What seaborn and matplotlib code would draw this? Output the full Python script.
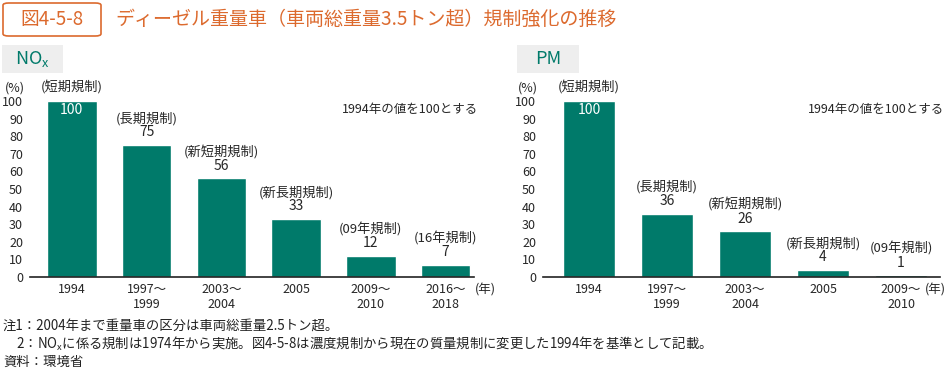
import matplotlib
matplotlib.use('Agg')
import pandas as pd
import seaborn as sns
import matplotlib.pyplot as plt
from matplotlib.patches import FancyBboxPatch, Rectangle

##
# data

nox_periods = ['1994', '1997～\n1999', '2003～\n2004', '2005', '2009～\n2010', '2016～\n2018']
nox_values = [100, 75, 56, 33, 12, 7]
nox_rules = ['(短期規制)', '(長期規制)', '(新短期規制)', '(新長期規制)', '(09年規制)', '(16年規制)']

pm_periods = ['1994', '1997～\n1999', '2003～\n2004', '2005', '2009～\n2010']
pm_values = [100, 36, 26, 4, 1]
pm_rules = ['(短期規制)', '(長期規制)', '(新短期規制)', '(新長期規制)', '(09年規制)']

title = 'ディーゼル重量車（車両総重量3.5トン超）規制強化の推移'
fig_no = '図4-5-8'
base_note = '1994年の値を100とする'
notes = ['注1：2004年まで重量車の区分は車両総重量2.5トン超。',
         '　2：NO$_\\mathregular{x}$に係る規制は1974年から実施。図4-5-8は濃度規制から現在の質量規制に変更した1994年を基準として記載。',
         '資料：環境省']

##
# style

sns.set_style('white')
plt.rcParams['font.family'] = ['Noto Sans CJK JP', 'DejaVu Sans']
plt.rcParams['mathtext.fontset'] = 'custom'
plt.rcParams['mathtext.rm'] = 'Noto Sans CJK JP'

teal = '#007a6a'
orange = '#dc6a2e'

W, H = 947, 369
fig = plt.figure(figsize=(W / 100, H / 100), dpi=100)


def px(x0, y0, x1, y1):
    # pixel box (top-left origin) -> figure fraction rect
    return [x0 / W, 1 - y1 / H, (x1 - x0) / W, (y1 - y0) / H]


def draw_panel(ax, periods, values, rules, xlim, year_off):
    df = pd.DataFrame({'period': periods, 'value': values})
    sns.barplot(data=df, x='period', y='value', color=teal, saturation=1,
                width=0.66, ax=ax)
    ax.set_ylim(0, 100)
    ax.set_xlim(*xlim)
    ax.set_yticks(range(0, 101, 10))
    ax.set_xlabel('')
    ax.set_ylabel('')
    for s in ['top', 'right', 'left']:
        ax.spines[s].set_visible(False)
    ax.spines['bottom'].set_color('#222222')
    ax.spines['bottom'].set_linewidth(1.2)
    ax.tick_params(axis='y', length=4, width=0.8, color='#333333',
                   labelsize=9, pad=1)
    ax.tick_params(axis='x', length=0, labelsize=9, pad=4)
    for i, (v, r) in enumerate(zip(values, rules)):
        if v >= 100:
            ax.annotate(str(v), (i, v), xytext=(0, -6.5), textcoords='offset points',
                        ha='center', va='center', color='white', fontsize=10)
            ax.annotate(r, (i, v), xytext=(0, 10), textcoords='offset points',
                        ha='center', va='center', fontsize=9.5, annotation_clip=False)
        else:
            ax.annotate(str(v), (i, v), xytext=(0, 9), textcoords='offset points',
                        ha='center', va='center', fontsize=10)
            ax.annotate(r, (i, v), xytext=(0, 19), textcoords='offset points',
                        ha='center', va='center', fontsize=9.5)
    ax.annotate('(年)', (len(values) - 1, 0), xycoords=('data', 'axes fraction'),
                xytext=(year_off, -5), textcoords='offset points', ha='center',
                va='top', fontsize=9, annotation_clip=False)
    ax.annotate('(%)', (0, 1), xycoords='axes fraction', xytext=(-11, 9.5),
                textcoords='offset points', ha='center', va='center', fontsize=9,
                annotation_clip=False)
    ax.annotate(base_note, (1, 1), xycoords='axes fraction', xytext=(3, -6),
                textcoords='offset points', ha='right', va='center', fontsize=9,
                annotation_clip=False)


ax1 = fig.add_axes(px(30, 101, 474, 277))
draw_panel(ax1, nox_periods, nox_values, nox_rules, (-0.56, 5.38), 29)

ax2 = fig.add_axes(px(543, 101, 940, 277))
draw_panel(ax2, pm_periods, pm_values, pm_rules, (-0.59, 4.5), 25)

##
# title, panel headers, notes

fig.add_artist(FancyBboxPatch((3 / W, 1 - 36 / H), 98 / W, 33 / H,
                              boxstyle='round,pad=0,rounding_size=0.006',
                              transform=fig.transFigure, facecolor='white',
                              edgecolor=orange, linewidth=1.2))
fig.text(52 / W, 1 - 19 / H, fig_no, color=orange, fontsize=13.5,
         ha='center', va='center')
fig.text(115 / W, 1 - 19 / H, title, color=orange, fontsize=13.7,
         ha='left', va='center')

for x0, x1, label in [(2, 63, 'NO$_\\mathregular{x}$'), (517, 579, 'PM')]:
    fig.add_artist(Rectangle((x0 / W, 1 - 73 / H), (x1 - x0) / W, 28 / H,
                             transform=fig.transFigure, facecolor='#eeeeee',
                             edgecolor='none'))
    fig.text((x0 + x1) / 2 / W, 1 - 59 / H, label, color=teal, fontsize=13,
             ha='center', va='center')

for k, line in enumerate(notes):
    fig.text(3 / W, 1 - (326 + 18 * k) / H, line, fontsize=9.6,
             ha='left', va='center', color='#222222')

fig.savefig('out.png', dpi=100)
plt.close(fig)
